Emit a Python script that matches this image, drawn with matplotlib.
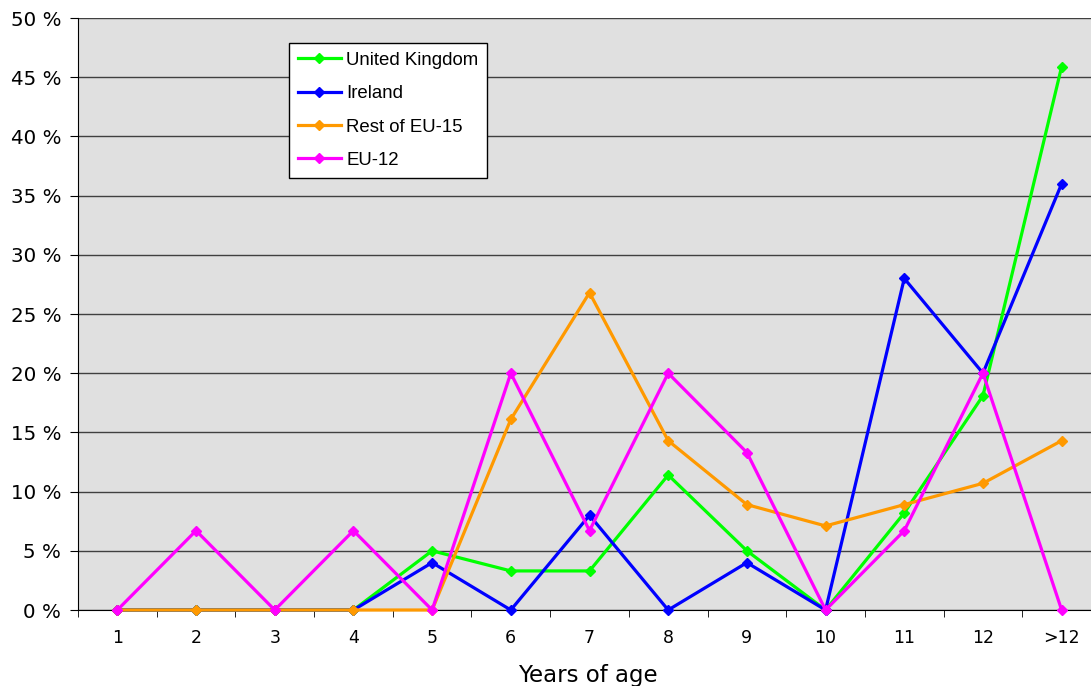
import matplotlib
matplotlib.use("Agg")
import matplotlib.pyplot as plt
import numpy as np

categories = ["1", "2", "3", "4", "5", "6", "7", "8", "9", "10", "11", "12", ">12"]
uk = [0, 0, 0, 0, 5.0, 3.3, 3.3, 11.4, 5.0, 0, 8.2, 18.1, 45.9]
ireland = [0, 0, 0, 0, 4.0, 0, 8.0, 0, 4.0, 0, 28.0, 20.0, 36.0]
rest_eu15 = [0, 0, 0, 0, 0, 16.1, 26.8, 14.3, 8.9, 7.1, 8.9, 10.7, 14.3]
eu12 = [0, 6.7, 0, 6.7, 0, 20.0, 6.7, 20.0, 13.3, 0, 6.7, 20.0, 0]
yticks = [0, 5, 10, 15, 20, 25, 30, 35, 40, 45, 50]

series = [("United Kingdom", uk, "#00FF00"),
          ("Ireland", ireland, "#0000FF"),
          ("Rest of EU-15", rest_eu15, "#FF9900"),
          ("EU-12", eu12, "#FF00FF")]

W, H = 1091, 686
fig = plt.figure(figsize=(W / 100, H / 100), dpi=100)
left, right, top, bottom = 78, 1101, 18, 610
ax = fig.add_axes([left / W, 1 - bottom / H, (right - left) / W, (bottom - top) / H])
ax.set_facecolor("#E0E0E0")

x = np.arange(1, len(categories) + 1)
for i, (name, vals, col) in enumerate(series):
    ax.plot(x, vals, color=col, lw=2.3, marker="D", ms=5, mec=col, mfc=col,
            label=name, zorder=3 + i, clip_on=False)

ax.set_xlim(0.5, len(categories) + 0.5)
ax.set_ylim(0, 50)
ax.set_yticks(yticks)
ax.set_yticklabels([f"{v} %" for v in yticks], fontsize=14.3, family="DejaVu Sans")
ax.yaxis.grid(True, color="#404040", lw=1)
ax.set_axisbelow(True)

ax.set_xticks(x)
ax.set_xticklabels(categories, fontsize=12.5, family="DejaVu Sans")
ax.set_xticks(np.arange(0.5, len(categories) + 1, 1), minor=True)
ax.tick_params(axis="x", which="major", length=0, pad=14)
ax.tick_params(axis="x", which="minor", length=5, direction="out", color="black")
ax.tick_params(axis="y", length=6, direction="out", color="black", pad=6)

for s in ["top", "right"]:
    ax.spines[s].set_visible(False)
ax.spines["left"].set_color("black")
ax.spines["bottom"].set_color("black")

ax.set_xlabel("Years of age", fontsize=16.5, family="DejaVu Sans")
ax.xaxis.label.set_va("baseline")
ax.xaxis.set_label_coords((588 - left) / (right - left), -(682 - bottom) / (bottom - top))

leg = ax.legend(loc="upper left", bbox_to_anchor=((289 - left) / (right - left), (bottom - 43) / (bottom - top)),
                borderaxespad=0, frameon=True, fancybox=False, shadow=False,
                prop={"family": "Liberation Sans", "size": 13.4},
                handlelength=2.3, handletextpad=0.3, labelspacing=0.88,
                borderpad=0.47)
leg.get_frame().set_edgecolor("black")
leg.get_frame().set_facecolor("white")
leg.get_frame().set_linewidth(1)
leg.get_frame().set_alpha(1)

fig.savefig("out.png", dpi=100)
